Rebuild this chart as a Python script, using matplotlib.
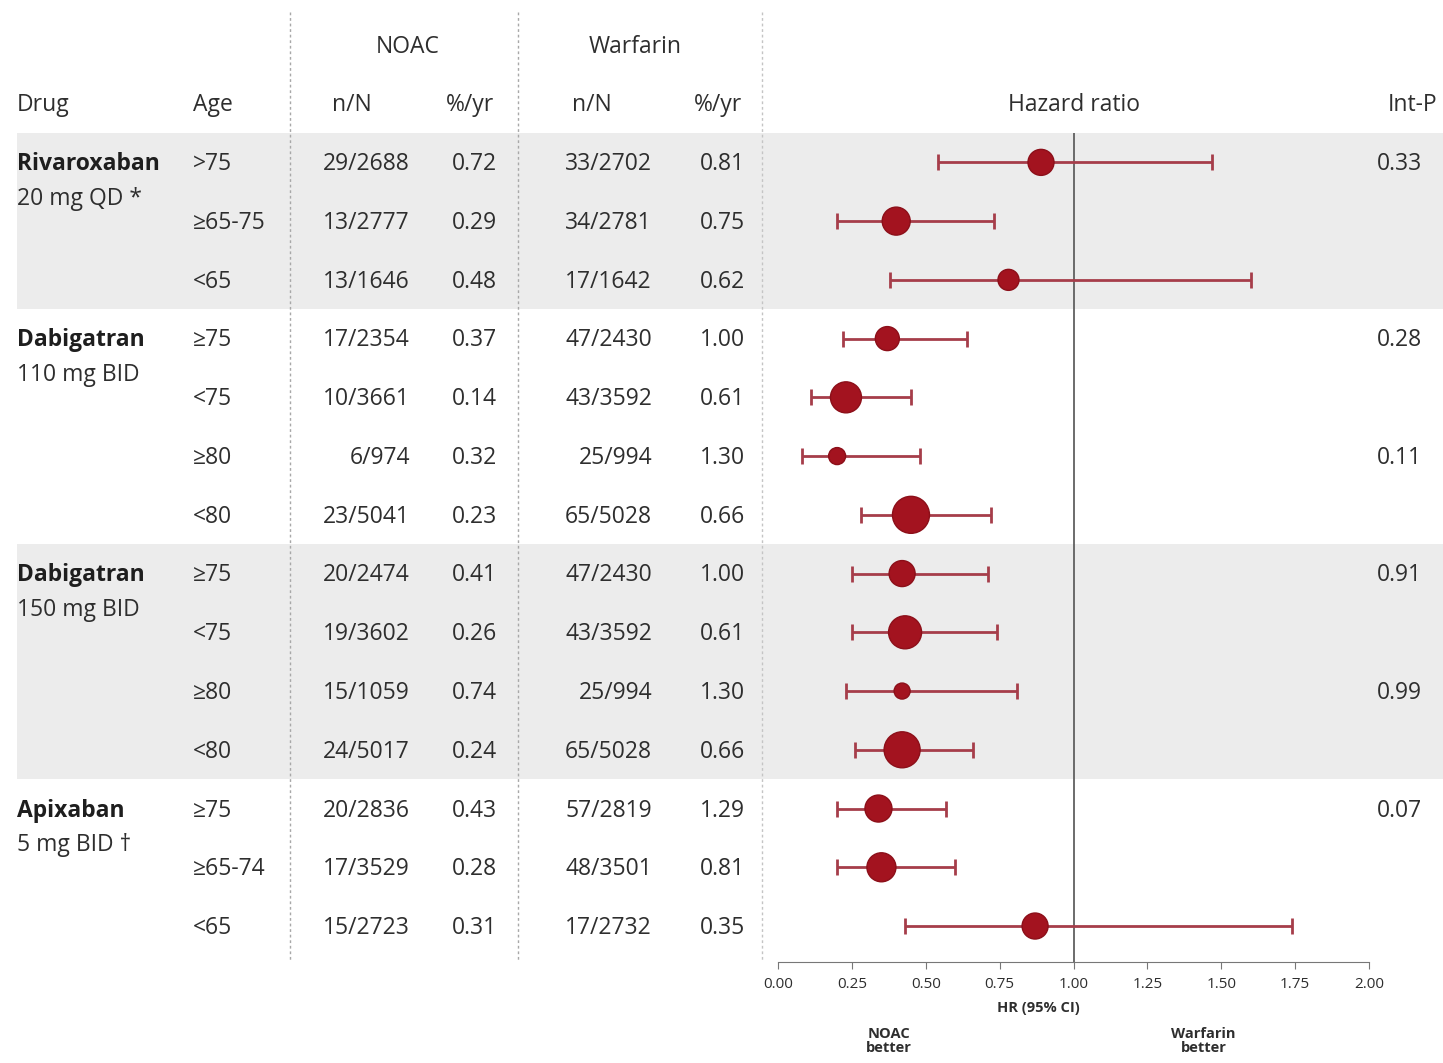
import numpy as np
import matplotlib
matplotlib.use("Agg")
import matplotlib.pyplot as plt

plt.rcParams['font.family'] = ['Open Sans', 'DejaVu Sans']

# data
drugs = ["Rivaroxaban", "Dabigatran", "Dabigatran", "Apixaban"]
doses = ["20 mg QD *", "110 mg BID", "150 mg BID", "5 mg BID \u2020"]
drug_rows = [0, 3, 7, 11]
ages = [">75", "\u226565-75", "<65",
        "\u226575", "<75", "\u226580", "<80",
        "\u226575", "<75", "\u226580", "<80",
        "\u226575", "\u226565-74", "<65"]
noac_n = ["29/2688", "13/2777", "13/1646", "17/2354", "10/3661", "6/974", "23/5041",
          "20/2474", "19/3602", "15/1059", "24/5017", "20/2836", "17/3529", "15/2723"]
noac_rate = ["0.72", "0.29", "0.48", "0.37", "0.14", "0.32", "0.23",
             "0.41", "0.26", "0.74", "0.24", "0.43", "0.28", "0.31"]
warf_n = ["33/2702", "34/2781", "17/1642", "47/2430", "43/3592", "25/994", "65/5028",
          "47/2430", "43/3592", "25/994", "65/5028", "57/2819", "48/3501", "17/2732"]
warf_rate = ["0.81", "0.75", "0.62", "1.00", "0.61", "1.30", "0.66",
             "1.00", "0.61", "1.30", "0.66", "1.29", "0.81", "0.35"]
hr = np.array([0.89, 0.40, 0.78, 0.37, 0.23, 0.20, 0.45,
               0.42, 0.43, 0.42, 0.42, 0.34, 0.35, 0.87])
hr_lo = np.array([0.54, 0.20, 0.38, 0.22, 0.11, 0.08, 0.28,
                  0.25, 0.25, 0.23, 0.26, 0.20, 0.20, 0.43])
hr_hi = np.array([1.47, 0.73, 1.60, 0.64, 0.45, 0.48, 0.72,
                  0.71, 0.74, 0.81, 0.66, 0.57, 0.60, 1.74])
weight = np.array([26, 28, 21, 24, 31, 17, 37, 26, 33, 16, 36, 27, 29, 26])  # marker diameter (px)
int_p_rows = [0, 3, 5, 7, 9, 11]
int_p = ["0.33", "0.28", "0.11", "0.91", "0.99", "0.07"]

W, H = 1443, 1063
pitch = 58.77
y0 = 162
rows = np.arange(len(ages))
txt = '#2e2e2e'
fs = 16.5
dy = 0.035  # small nudge so text sits on the row centre

fig = plt.figure(figsize=(W / 100, H / 100), dpi=100)

# table axes: x in pixels, y in row units
tab = fig.add_axes([0, 0, 1, 1])
tab.set_xlim(0, W)
tab.set_ylim((H - y0) / pitch, -y0 / pitch)
tab.axis('off')

# shaded groups
for start, stop in [(0, 2), (7, 10)]:
    tab.axhspan(start - 0.5, stop + 0.5, xmin=17 / W, xmax=1, color='#ececec', lw=0, zorder=0)

# dashed separators
for sx, c in [(290, '#a8a8a8'), (518, '#a8a8a8'), (762, '#c4c4c4')]:
    tab.plot([sx, sx], [-2.55, 13.58], color=c, lw=1, ls=(0, (2, 2)), zorder=1)

# headers
tab.text(408, -2 + dy, "NOAC", ha='center', va='center', fontsize=fs, color=txt)
tab.text(635, -2 + dy, "Warfarin", ha='center', va='center', fontsize=fs, color=txt)
tab.text(17, -1 + dy, "Drug", ha='left', va='center', fontsize=fs, color=txt)
tab.text(193, -1 + dy, "Age", ha='left', va='center', fontsize=fs, color=txt)
tab.text(352, -1 + dy, "n/N", ha='center', va='center', fontsize=fs, color=txt)
tab.text(470, -1 + dy, "%/yr", ha='center', va='center', fontsize=fs, color=txt)
tab.text(592, -1 + dy, "n/N", ha='center', va='center', fontsize=fs, color=txt)
tab.text(718, -1 + dy, "%/yr", ha='center', va='center', fontsize=fs, color=txt)
tab.text(1074, -1 + dy, "Hazard ratio", ha='center', va='center', fontsize=fs, color=txt)
tab.text(1437, -1 + dy, "Int-P", ha='right', va='center', fontsize=fs, color=txt)

for d, dose, r in zip(drugs, doses, drug_rows):
    tab.text(17, r + dy, d, ha='left', va='center', fontsize=fs, fontweight='bold', color='#1e1e1e')
    tab.text(17, r + 0.63, dose, ha='left', va='center', fontsize=fs, color=txt)

for r in rows:
    tab.text(193, r + dy, ages[r], ha='left', va='center', fontsize=fs, color=txt)
    tab.text(410, r + dy, noac_n[r], ha='right', va='center', fontsize=fs, color=txt)
    tab.text(497, r + dy, noac_rate[r], ha='right', va='center', fontsize=fs, color=txt)
    tab.text(652, r + dy, warf_n[r], ha='right', va='center', fontsize=fs, color=txt)
    tab.text(745, r + dy, warf_rate[r], ha='right', va='center', fontsize=fs, color=txt)

for r, p in zip(int_p_rows, int_p):
    tab.text(1422, r + dy, p, ha='right', va='center', fontsize=fs, color=txt)

# forest axes
ax = fig.add_axes([778 / W, 1 - 962 / H, (1369 - 778) / W, (962 - 133) / H])
ax.patch.set_visible(False)
ax.set_xlim(0, 2)
ax.set_ylim((962 - y0) / pitch, -0.5)
ax.axvline(1, color='#606060', lw=1.3, zorder=1)
ax.errorbar(hr, rows, xerr=[hr - hr_lo, hr_hi - hr], fmt='none',
            ecolor='#a63d4a', elinewidth=2, capsize=6, capthick=2, zorder=2)
ax.scatter(hr, rows, s=(weight * 0.72) ** 2, color='#a3131f', edgecolor='#8c0f19',
           lw=1, zorder=3)

for s in ['top', 'right', 'left']:
    ax.spines[s].set_visible(False)
ax.spines['bottom'].set_color('#777777')
ax.set_yticks([])
ax.set_xticks(np.arange(0, 2.01, 0.25))
ax.set_xticklabels([f"{v:.2f}" for v in np.arange(0, 2.01, 0.25)])
ax.tick_params(axis='x', labelsize=11, colors='#777777', labelcolor=txt, length=5, pad=6)

ax.text(0.88, (1008 - y0) / pitch, "HR (95% CI)", ha='center', va='center',
        fontsize=10.5, fontweight='bold', color=txt, clip_on=False)
ax.text(0.375, (1041 - y0) / pitch, "NOAC\nbetter", ha='center', va='center',
        fontsize=10.5, fontweight='bold', color=txt, clip_on=False, linespacing=1.0)
ax.text(1.44, (1041 - y0) / pitch, "Warfarin\nbetter", ha='center', va='center',
        fontsize=10.5, fontweight='bold', color=txt, clip_on=False, linespacing=1.0)

fig.savefig("out.png", dpi=100)
